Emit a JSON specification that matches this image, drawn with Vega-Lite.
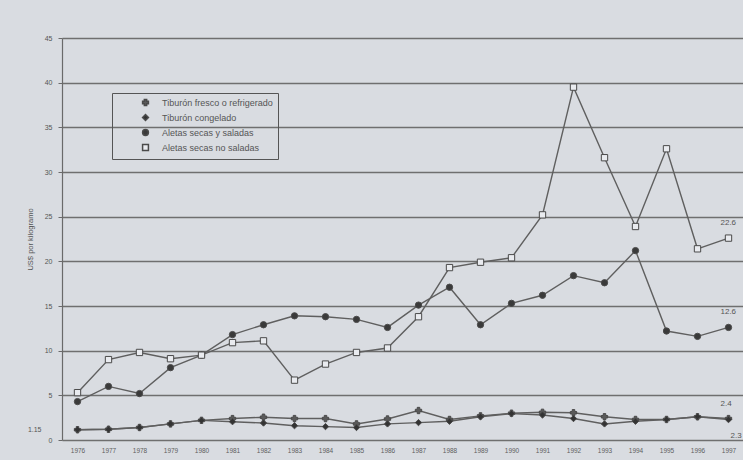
{
  "$schema": "https://vega.github.io/schema/vega-lite/v6.json",
  "description": "Precios unitarios de tiburón y aletas, 1976-1997",
  "autosize": {"type": "none"},
  "padding": {"left": 62, "top": 38, "right": 0, "bottom": 22},
  "width": 682,
  "height": 402,
  "background": "#d9dce1",
  "config": {
    "view": {"stroke": null},
    "font": "Liberation Sans"
  },
  "data": {
    "values": [
      {"year": 1976, "serie": "Tiburón fresco o refrigerado", "value": 1.15},
      {"year": 1977, "serie": "Tiburón fresco o refrigerado", "value": 1.2},
      {"year": 1978, "serie": "Tiburón fresco o refrigerado", "value": 1.4},
      {"year": 1979, "serie": "Tiburón fresco o refrigerado", "value": 1.8},
      {"year": 1980, "serie": "Tiburón fresco o refrigerado", "value": 2.2},
      {"year": 1981, "serie": "Tiburón fresco o refrigerado", "value": 2.4},
      {"year": 1982, "serie": "Tiburón fresco o refrigerado", "value": 2.55},
      {"year": 1983, "serie": "Tiburón fresco o refrigerado", "value": 2.4},
      {"year": 1984, "serie": "Tiburón fresco o refrigerado", "value": 2.4},
      {"year": 1985, "serie": "Tiburón fresco o refrigerado", "value": 1.8},
      {"year": 1986, "serie": "Tiburón fresco o refrigerado", "value": 2.35},
      {"year": 1987, "serie": "Tiburón fresco o refrigerado", "value": 3.3},
      {"year": 1988, "serie": "Tiburón fresco o refrigerado", "value": 2.3},
      {"year": 1989, "serie": "Tiburón fresco o refrigerado", "value": 2.7},
      {"year": 1990, "serie": "Tiburón fresco o refrigerado", "value": 3.0},
      {"year": 1991, "serie": "Tiburón fresco o refrigerado", "value": 3.1},
      {"year": 1992, "serie": "Tiburón fresco o refrigerado", "value": 3.05},
      {"year": 1993, "serie": "Tiburón fresco o refrigerado", "value": 2.6},
      {"year": 1994, "serie": "Tiburón fresco o refrigerado", "value": 2.3},
      {"year": 1995, "serie": "Tiburón fresco o refrigerado", "value": 2.3},
      {"year": 1996, "serie": "Tiburón fresco o refrigerado", "value": 2.6},
      {"year": 1997, "serie": "Tiburón fresco o refrigerado", "value": 2.4},
      {"year": 1976, "serie": "Tiburón congelado", "value": 1.15},
      {"year": 1977, "serie": "Tiburón congelado", "value": 1.2},
      {"year": 1978, "serie": "Tiburón congelado", "value": 1.4},
      {"year": 1979, "serie": "Tiburón congelado", "value": 1.8},
      {"year": 1980, "serie": "Tiburón congelado", "value": 2.2},
      {"year": 1981, "serie": "Tiburón congelado", "value": 2.05},
      {"year": 1982, "serie": "Tiburón congelado", "value": 1.9},
      {"year": 1983, "serie": "Tiburón congelado", "value": 1.6},
      {"year": 1984, "serie": "Tiburón congelado", "value": 1.5},
      {"year": 1985, "serie": "Tiburón congelado", "value": 1.4},
      {"year": 1986, "serie": "Tiburón congelado", "value": 1.8},
      {"year": 1987, "serie": "Tiburón congelado", "value": 1.95},
      {"year": 1988, "serie": "Tiburón congelado", "value": 2.1},
      {"year": 1989, "serie": "Tiburón congelado", "value": 2.6},
      {"year": 1990, "serie": "Tiburón congelado", "value": 2.95},
      {"year": 1991, "serie": "Tiburón congelado", "value": 2.8},
      {"year": 1992, "serie": "Tiburón congelado", "value": 2.4},
      {"year": 1993, "serie": "Tiburón congelado", "value": 1.8},
      {"year": 1994, "serie": "Tiburón congelado", "value": 2.1},
      {"year": 1995, "serie": "Tiburón congelado", "value": 2.3},
      {"year": 1996, "serie": "Tiburón congelado", "value": 2.6},
      {"year": 1997, "serie": "Tiburón congelado", "value": 2.3},
      {"year": 1976, "serie": "Aletas secas y saladas", "value": 4.3},
      {"year": 1977, "serie": "Aletas secas y saladas", "value": 6.0},
      {"year": 1978, "serie": "Aletas secas y saladas", "value": 5.2},
      {"year": 1979, "serie": "Aletas secas y saladas", "value": 8.1},
      {"year": 1980, "serie": "Aletas secas y saladas", "value": 9.5},
      {"year": 1981, "serie": "Aletas secas y saladas", "value": 11.8},
      {"year": 1982, "serie": "Aletas secas y saladas", "value": 12.9},
      {"year": 1983, "serie": "Aletas secas y saladas", "value": 13.9},
      {"year": 1984, "serie": "Aletas secas y saladas", "value": 13.8},
      {"year": 1985, "serie": "Aletas secas y saladas", "value": 13.5},
      {"year": 1986, "serie": "Aletas secas y saladas", "value": 12.6},
      {"year": 1987, "serie": "Aletas secas y saladas", "value": 15.1},
      {"year": 1988, "serie": "Aletas secas y saladas", "value": 17.1},
      {"year": 1989, "serie": "Aletas secas y saladas", "value": 12.9},
      {"year": 1990, "serie": "Aletas secas y saladas", "value": 15.3},
      {"year": 1991, "serie": "Aletas secas y saladas", "value": 16.2},
      {"year": 1992, "serie": "Aletas secas y saladas", "value": 18.4},
      {"year": 1993, "serie": "Aletas secas y saladas", "value": 17.6},
      {"year": 1994, "serie": "Aletas secas y saladas", "value": 21.2},
      {"year": 1995, "serie": "Aletas secas y saladas", "value": 12.2},
      {"year": 1996, "serie": "Aletas secas y saladas", "value": 11.6},
      {"year": 1997, "serie": "Aletas secas y saladas", "value": 12.6},
      {"year": 1976, "serie": "Aletas secas no saladas", "value": 5.3},
      {"year": 1977, "serie": "Aletas secas no saladas", "value": 9.0},
      {"year": 1978, "serie": "Aletas secas no saladas", "value": 9.8},
      {"year": 1979, "serie": "Aletas secas no saladas", "value": 9.1},
      {"year": 1980, "serie": "Aletas secas no saladas", "value": 9.5},
      {"year": 1981, "serie": "Aletas secas no saladas", "value": 10.9},
      {"year": 1982, "serie": "Aletas secas no saladas", "value": 11.1},
      {"year": 1983, "serie": "Aletas secas no saladas", "value": 6.7},
      {"year": 1984, "serie": "Aletas secas no saladas", "value": 8.5},
      {"year": 1985, "serie": "Aletas secas no saladas", "value": 9.8},
      {"year": 1986, "serie": "Aletas secas no saladas", "value": 10.3},
      {"year": 1987, "serie": "Aletas secas no saladas", "value": 13.8},
      {"year": 1988, "serie": "Aletas secas no saladas", "value": 19.3},
      {"year": 1989, "serie": "Aletas secas no saladas", "value": 19.9},
      {"year": 1990, "serie": "Aletas secas no saladas", "value": 20.4},
      {"year": 1991, "serie": "Aletas secas no saladas", "value": 25.2},
      {"year": 1992, "serie": "Aletas secas no saladas", "value": 39.5},
      {"year": 1993, "serie": "Aletas secas no saladas", "value": 31.6},
      {"year": 1994, "serie": "Aletas secas no saladas", "value": 23.9},
      {"year": 1995, "serie": "Aletas secas no saladas", "value": 32.6},
      {"year": 1996, "serie": "Aletas secas no saladas", "value": 21.4},
      {"year": 1997, "serie": "Aletas secas no saladas", "value": 22.6}
    ]
  },
  "encoding": {
    "x": {
      "field": "year",
      "type": "ordinal",
      "scale": {"type": "point", "padding": 0.5},
      "axis": {
        "title": null,
        "labelAngle": 0,
        "labelFontSize": 6.5,
        "labelColor": "#5e5e5e",
        "domain": false,
        "ticks": false,
        "labelPadding": 7
      }
    },
    "y": {
      "field": "value",
      "type": "quantitative",
      "scale": {"domain": [0, 45], "nice": false},
      "axis": {
        "values": [0, 5, 10, 15, 20, 25, 30, 35, 40, 45],
        "title": "US$ por kilogramo",
        "titleFontSize": 7.5,
        "titleFontWeight": "normal",
        "titleColor": "#555555",
        "titlePadding": 10,
        "labelFontSize": 7,
        "labelColor": "#555555",
        "labelPadding": 6,
        "grid": true,
        "gridColor": "#6f6f6f",
        "gridWidth": 1.4,
        "domainColor": "#6a6a6a",
        "domainWidth": 1.2,
        "tickColor": "#6a6a6a",
        "tickSize": 4
      }
    }
  },
  "layer": [
    {
      "mark": {"type": "line", "color": "#5f5f5f", "strokeWidth": 1.4},
      "encoding": {"detail": {"field": "serie", "type": "nominal"}}
    },
    {
      "mark": {"type": "point", "filled": true, "size": 40, "strokeWidth": 1, "opacity": 1},
      "encoding": {
        "stroke": {"value": "#4a4a4a"},
        "shape": {
          "field": "serie",
          "type": "nominal",
          "scale": {
            "domain": ["Tiburón fresco o refrigerado", "Tiburón congelado", "Aletas secas y saladas", "Aletas secas no saladas"],
            "range": ["cross", "diamond", "circle", "square"]
          },
          "legend": {
            "title": null,
            "orient": "none",
            "legendX": 50,
            "legendY": 55,
            "direction": "vertical",
            "strokeColor": "#555555",
            "padding": 5,
            "rowPadding": 2,
            "symbolOffset": 24,
            "symbolSize": 34,
            "labelOffset": 12,
            "labelFontSize": 9,
            "labelColor": "#555555",
            "labelLimit": 220,
            "encode": {
              "symbols": {
                "update": {
                  "stroke": {"value": "#4a4a4a"},
                  "strokeWidth": {"value": 1}
                }
              }
            }
          }
        },
        "fill": {
          "field": "serie",
          "type": "nominal",
          "scale": {
            "domain": ["Tiburón fresco o refrigerado", "Tiburón congelado", "Aletas secas y saladas", "Aletas secas no saladas"],
            "range": ["#5a5a5a", "#333333", "#3a3a3a", "#e9ebef"]
          },
          "legend": null
        }
      }
    },
    {
      "transform": [
        {"filter": "datum.year == 1997 && datum.serie != 'Tiburón congelado'"}
      ],
      "mark": {"type": "text", "align": "left", "dx": -8, "dy": -15, "fontSize": 8, "color": "#555555"},
      "encoding": {"text": {"field": "value", "type": "quantitative", "format": ".1f"}}
    },
    {
      "transform": [
        {"filter": "datum.year == 1997 && datum.serie == 'Tiburón congelado'"}
      ],
      "mark": {"type": "text", "align": "left", "dx": 2, "dy": 17, "fontSize": 8, "color": "#555555"},
      "encoding": {"text": {"field": "value", "type": "quantitative", "format": ".1f"}}
    },
    {
      "transform": [
        {"filter": "datum.year == 1976 && datum.serie == 'Tiburón fresco o refrigerado'"}
      ],
      "mark": {"type": "text", "align": "right", "dx": -36, "dy": 0, "fontSize": 7, "color": "#555555"},
      "encoding": {"text": {"field": "value", "type": "quantitative", "format": ".2f"}}
    }
  ]
}
